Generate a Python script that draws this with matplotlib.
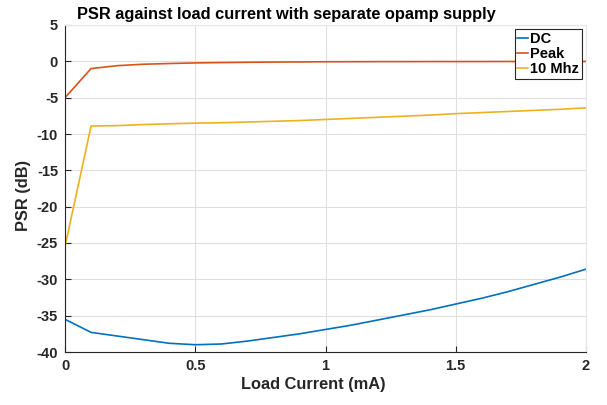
import matplotlib
matplotlib.use("Agg")
import matplotlib.pyplot as plt

plt.rcParams['font.family'] = ['Liberation Sans', 'DejaVu Sans']
plt.rcParams['font.weight'] = 'bold'
plt.rcParams['axes.unicode_minus'] = False

x = [0, 0.1, 0.2, 0.3, 0.4, 0.5, 0.6, 0.7, 0.8, 0.9, 1.0, 1.1, 1.2, 1.3, 1.4, 1.5, 1.6, 1.7, 1.8, 1.9, 2.0]
dc = [-35.5, -37.3, -37.8, -38.3, -38.8, -39.0, -38.9, -38.5, -38.0, -37.5, -36.9,
      -36.3, -35.6, -34.9, -34.2, -33.4, -32.6, -31.7, -30.7, -29.7, -28.6]
peak = [-5.0, -1.0, -0.6, -0.4, -0.3, -0.22, -0.17, -0.13, -0.1, -0.08, -0.06,
        -0.05, -0.04, -0.04, -0.03, -0.03, -0.03, -0.02, -0.02, -0.02, -0.02]
mhz10 = [-25.5, -8.9, -8.85, -8.7, -8.6, -8.5, -8.45, -8.35, -8.25, -8.15, -8.0,
         -7.85, -7.7, -7.55, -7.4, -7.2, -7.05, -6.9, -6.75, -6.6, -6.4]

xticks = [0, 0.5, 1, 1.5, 2]
xticklabels = ['0', '0.5', '1', '1.5', '2']
yticks = [5, 0, -5, -10, -15, -20, -25, -30, -35, -40]

W, H = 607, 405
fig = plt.figure(figsize=(6.07, 4.05), dpi=100)
ax = fig.add_axes([65/W, 1-352/H, (586-65)/W, (352-25)/H])

ax.plot(x, dc, color='#0072BD', lw=1.2, label='DC')
ax.plot(x, peak, color='#D95319', lw=1.2, label='Peak')
ax.plot(x, mhz10, color='#EDB120', lw=1.2, label='10 Mhz')

ax.set_xlim(0, 2)
ax.set_ylim(-40, 5)
ax.set_xticks(xticks)
ax.set_xticklabels(xticklabels)
ax.set_yticks(yticks)
ax.grid(True, color='#DFDFDF', lw=0.8)
ax.set_axisbelow(True)
ax.tick_params(direction='in', length=4, labelsize=10.5, colors='#262626', width=0.8, pad=5)
for lab in ax.get_xticklabels() + ax.get_yticklabels():
    lab.set_fontweight('bold')
for s in ax.spines.values():
    s.set_color('#262626')
    s.set_linewidth(0.8)
ax.spines['top'].set_color('#E6E6E6')
ax.spines['right'].set_color('#E6E6E6')

fig.text(313/W, 1-384/H, 'Load Current (mA)', fontsize=11.8, fontweight='bold',
         ha='center', va='center', color='#262626')
fig.text(24/W, 1-195/H, 'PSR (dB)', fontsize=11.8, fontweight='bold', rotation=90,
         ha='center', va='center', color='#262626')
fig.text(286/W, 1-19/H, 'PSR against load current with separate opamp supply',
         fontsize=11.8, fontweight='bold', ha='center', va='baseline', color='black')

leg = ax.legend(loc='upper right', fontsize=10.5, handlelength=0.7, handletextpad=0.15,
                borderpad=0.2, labelspacing=0.05, borderaxespad=0.3, fancybox=False,
                framealpha=1, edgecolor='#262626')
leg.get_frame().set_linewidth(0.8)
for t in leg.get_texts():
    t.set_fontweight('bold')

fig.savefig('out.png', dpi=100)
